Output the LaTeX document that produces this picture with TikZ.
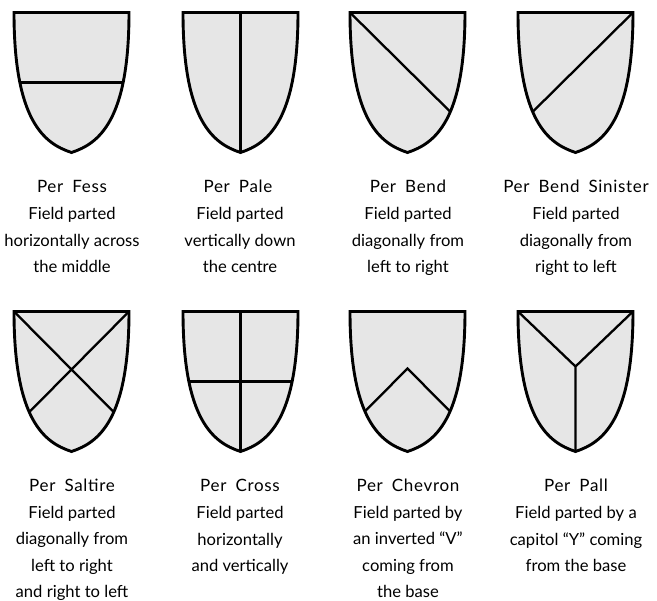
\documentclass[tikz,border=0pt]{standalone}
\usepackage{fontspec}
\setmainfont{Lato}
\newfontfamily\titlefont[LetterSpace=4,WordSpace=1.8]{Lato}
\definecolor{shieldgray}{RGB}{230,230,230}
\newcommand\shieldpath{(0,0) -- (115,0) .. controls (115,108) and (85,131) .. (57.5,140) .. controls (30,131) and (0,108) .. cycle}
\newcommand\drawshield[3]{%
  \begin{scope}[shift={(#1,#2)}]
    \fill[shieldgray] \shieldpath;
    \begin{scope}\clip \shieldpath; #3\end{scope}
    \draw[outline] \shieldpath;
  \end{scope}}
\tikzset{
  outline/.style={draw=black,line width=2.9pt},
  partline/.style={draw=black,line width=2.3pt},
  title/.style={anchor=base,inner sep=0pt,font=\titlefont\fontsize{17}{20}\selectfont},
  desc/.style={anchor=base,inner sep=0pt,align=center,font=\fontsize{16.6}{26.6}\selectfont},
}
\begin{document}
\begin{tikzpicture}[x=1pt,y=-1pt]
\useasboundingbox (0,0) rectangle (657,601);
% row 1
\drawshield{14}{12.5}{\draw[partline] (0,70) -- (115,70);}
\drawshield{183}{12.5}{\draw[partline] (57.5,0) -- (57.5,145);}
\drawshield{350}{12.5}{\draw[partline] (0,0) -- (151.5,150);}
\drawshield{518}{12.5}{\draw[partline] (115,0) -- (-36.5,150);}
% row 2
\drawshield{14}{311.5}{\draw[partline] (0,0) -- (120,121) (115,0) -- (-5,121);}
\drawshield{183}{311.5}{\draw[partline] (0,70) -- (115,70) (57.5,0) -- (57.5,145);}
\drawshield{350}{311.5}{\draw[partline] (-5,120) -- (57.5,57) -- (120,120);}
\drawshield{518}{311.5}{\draw[partline] (0,0) -- (57.5,55) -- (115,0) (57.5,55) -- (57.5,145);}
% titles and descriptions (desc nodes are anchored at the baseline of their last line)
\node[title] (t1) at (72,193) {Per Fess};
\node[title] (t2) at (238,193) {Per Pale};
\node[title] (t3) at (408,193) {Per Bend};
\node[title] (t4) at (576,193) {Per Bend Sinister};
\node[desc] (d1) at (72,273) {Field parted\\horizontally across\\the middle};
\node[desc] (d2) at (240,273) {Field parted\\vertically down\\the centre};
\node[desc] (d3) at (408,273) {Field parted\\diagonally from\\left to right};
\node[desc] (d4) at (576,273) {Field parted\\diagonally from\\right to left};
\node[title] (t5) at (72,492) {Per Saltire};
\node[title] (t6) at (240,492) {Per Cross};
\node[title] (t7) at (408,492) {Per Chevron};
\node[title] (t8) at (576,492) {Per Pall};
\node[desc] (d5) at (72,598) {Field parted\\diagonally from\\left to right\\and right to left};
\node[desc] (d6) at (240,572) {Field parted\\horizontally\\and vertically};
\node[desc] (d7) at (408,598) {Field parted by\\an inverted “V”\\coming from\\the base};
\node[desc] (d8) at (576,572) {Field parted by a\\capitol “Y” coming\\from the base};
\end{tikzpicture}
\end{document}
